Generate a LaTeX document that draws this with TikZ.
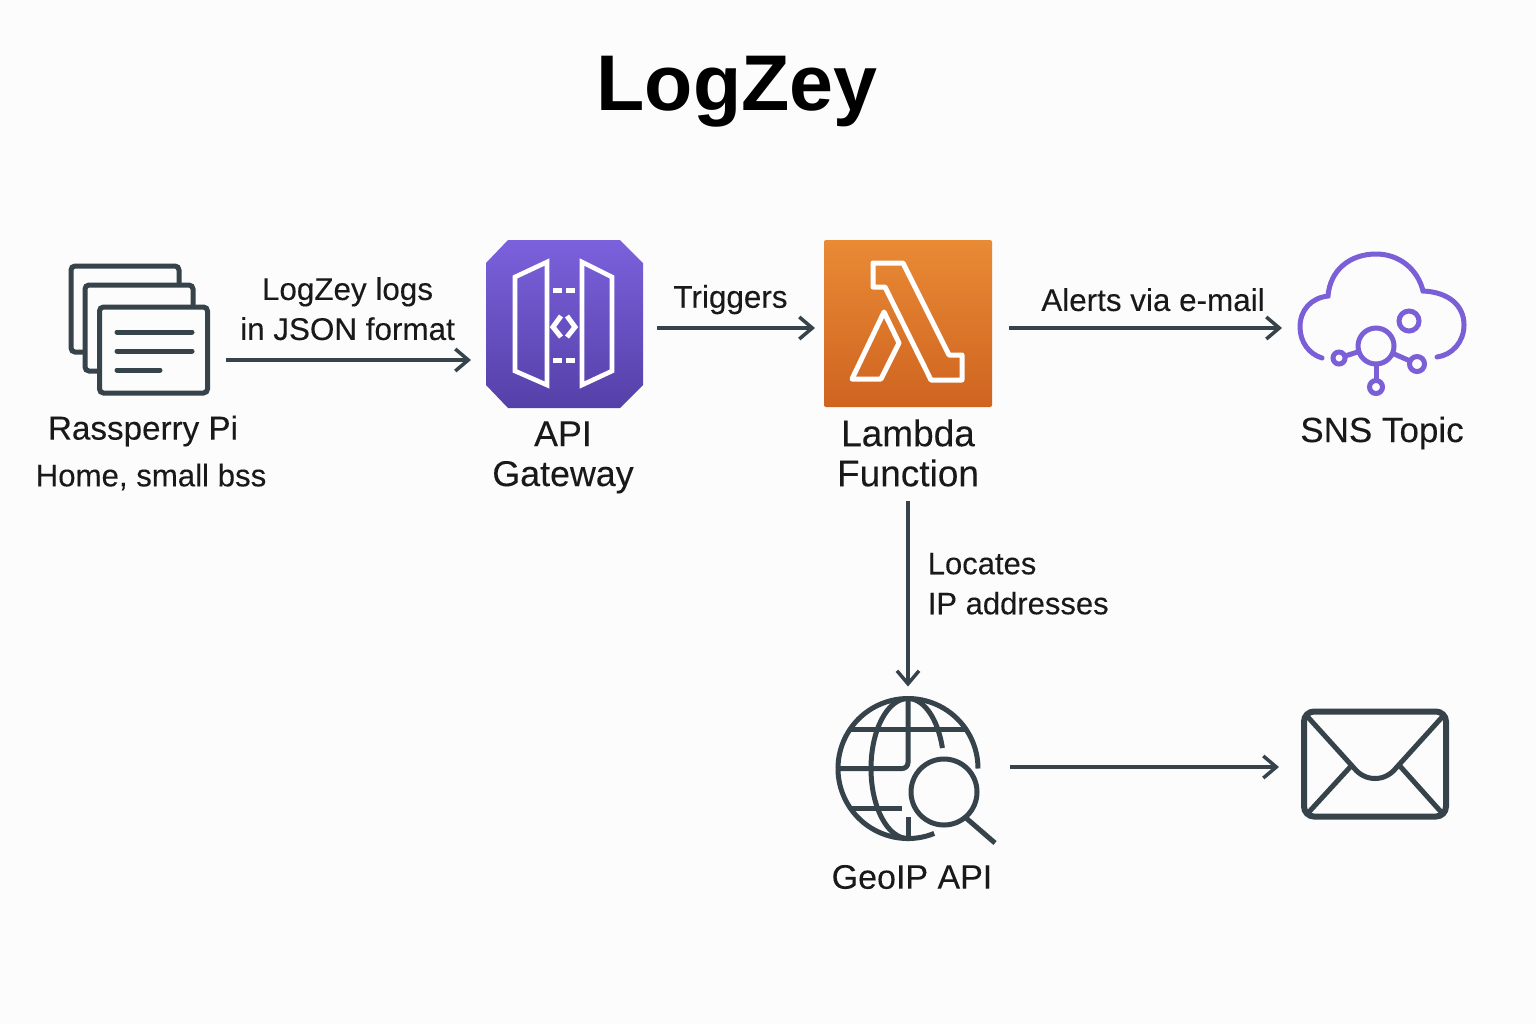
\documentclass[tikz,border=0pt]{standalone}
\usepackage{fontspec}
\setmainfont{Liberation Sans}
\newfontfamily\midfont[FakeBold=0.15]{Liberation Sans}
\usetikzlibrary{positioning,arrows.meta}
\definecolor{ink}{HTML}{37434B}
\definecolor{paper}{HTML}{FCFCFC}
\definecolor{snspurple}{HTML}{7A5FD6}
\definecolor{apitop}{HTML}{7B61DC}
\definecolor{apibottom}{HTML}{5540A8}
\definecolor{lambdatop}{HTML}{E98A35}
\definecolor{lambdabottom}{HTML}{CF6420}
\tikzset{icon box/.style={minimum width=#1,inner sep=0pt,outer sep=0pt},
	flow/.style={draw=ink,line width=1.75pt,-{Straight Barb[length=6.5pt,width=11pt,line width=1.75pt]}},
	icon text/.style={font=\midfont\fontsize{#1}{20}\selectfont,text=black!90,align=center,inner sep=0pt},
	flow text/.style={font=\midfont\fontsize{#1}{20}\selectfont,text=black!90,inner sep=0pt},
	doc line/.style={draw=ink,line width=2.5pt,line cap=round,rounded corners=2pt},
	door/.style={draw=white,line width=2.3pt,line join=miter},
	sns ring/.style={circle,draw=snspurple,line width=2.5pt,inner sep=0pt,outer sep=0pt,minimum size=#1},
	globe line/.style={draw=ink,line width=2.5pt},
}
\begin{document}
\begin{tikzpicture}[x=0.5pt,y=-0.5pt]
	\fill[paper] (0,0) rectangle (1536,1024);
	\node[font=\fontsize{39.5}{44}\bfseries\selectfont,text=black] (title) at (737,92) {LogZey};

	\node[icon box=69.5pt,minimum height=68pt] (pi) at (139.5,324) {};
	\node[icon box=78.5pt,minimum height=84pt] (api) [right = 138.5pt of pi] {};
	\node[icon box=84pt,minimum height=84pt] (lambda) [right = 90.5pt of api] {};
	\node[icon box=84.5pt,minimum height=74pt] (sns) [right = 153pt of lambda] {};
	\node[circle,icon box=70pt] (geoip) [below = 145.25pt of lambda] {};
	\node[draw=ink,line width=3pt,rounded corners=5pt,icon box=71pt,minimum height=52.5pt,yshift=2.25pt] (mail) [right = 163pt of geoip] {};

	\node[icon text=16.6] (pilabel) at (143,431) {Rassperry Pi};
	\node[flow text=15.6] (pinote) at (151,477) {Home, small bss};
	\node[icon text=17.9] (apilabel) [below = 6.5pt of api,xshift=-0.75pt] {API\\Gateway};
	\node[icon text=18.5] (lambdalabel) [below = 5.5pt of lambda] {Lambda\\Function};
	\node[icon text=17.5] (snslabel) at (1382,433) {SNS Topic};
	\node[icon text=17] (geoiplabel) at (912,877) {GeoIP API};

	% documents
	\foreach \dx/\dy in {0/0,14/19,28.5/41}
		\draw[doc line,fill=paper] (71+\dx,266+\dy) rectangle (179+\dx,352+\dy);
	\draw[doc line] (117,332) -- (192,332);
	\draw[doc line] (117,351) -- (192,351);
	\draw[doc line] (117,370) -- (160,370);

	% gateway
	\shade[top color=apitop,bottom color=apibottom]
		(508,240) -- (620,240) -- (643,263) -- (643,385) -- (620,408) -- (508,408) -- (486,385) -- (486,263) -- cycle;
	\draw[door] (515,277) -- (547,262) -- (547,385) -- (515,371) -- cycle;
	\draw[door] (582,262) -- (612,277) -- (612,371) -- (582,385) -- cycle;
	\foreach \doty in {290,360} {
		\draw[white,line width=2.5pt] (553,\doty) -- (562,\doty);
		\draw[white,line width=2.5pt] (566,\doty) -- (575,\doty);
	}
	\draw[white,line width=2.5pt] (561,316) -- (553,327) -- (561,337);
	\draw[white,line width=2.5pt] (567,316) -- (575,327) -- (567,337);

	% lambda
	\shade[top color=lambdatop,bottom color=lambdabottom,rounded corners=1pt]
		(824,240) rectangle (992,407);
	\draw[white,line width=2.5pt,line join=round] (873,263) -- (903,263) -- (949,355) -- (962,355) -- (962,380) -- (931,380) -- (885,287) -- (873,287) -- cycle;
	\draw[white,line width=2.5pt,line join=round] (884,312) -- (899,343) -- (881,379) -- (852,379) -- cycle;

	% sns
	\draw[draw=snspurple,line width=2.5pt,line cap=round] (1322,358) .. controls (1309,354) and (1300,342) .. (1300,327) .. controls (1300,310) and (1311,298) .. (1328,296) .. controls (1330,270) and (1350,254) .. (1376,254) .. controls (1400,254) and (1418,270) .. (1423,291) .. controls (1448,292) and (1464,305) .. (1464,325) .. controls (1464,342) and (1452,355) .. (1437,357);
	\node[sns ring=18pt] (hub) at (1376,346) {};
	\node[sns ring=10pt] (ringtop) at (1409,321) {};
	\node[sns ring=7.5pt] (ringright) at (1417,364) {};
	\node[sns ring=6pt] (ringleft) at (1339,358) {};
	\node[sns ring=6.5pt] (ringdown) at (1376,387) {};
	\draw[draw=snspurple,line width=2.5pt] (hub) -- (ringleft);
	\draw[draw=snspurple,line width=2.5pt] (hub) -- (ringright);
	\draw[draw=snspurple,line width=2.5pt] (hub) -- (ringdown);

	% globe
	\draw[globe line] (geoip.-68) arc[start angle=-68,end angle=-360,radius=35pt];
	\draw[globe line] (geoip.north) arc[start angle=90,end angle=270,x radius=18.5pt,y radius=35pt];
	\draw[globe line] (geoip.north) arc[start angle=90,end angle=17,x radius=18pt,y radius=35pt];
	\draw[globe line,rounded corners=3pt] (geoip.north) |- (geoip.west);
	\draw[globe line] (geoip.south) -- (908,817);
	\draw[globe line] (851,729) -- (965,729);
	\draw[globe line] (851,808) -- (902,808);
	\node[circle,draw=ink,fill=paper,line width=2.5pt,icon box=33pt] (lens) at (944,792) {};
	\draw[globe line] (lens.-50) -- (995,843);

	% envelope
	\draw[draw=ink,line width=2.5pt] (1306,715) -- (1354,768) .. controls (1365,782) and (1385,782) .. (1396,768) -- (1444,715);
	\draw[draw=ink,line width=2.5pt] (1308,813) -- (1352,765);
	\draw[draw=ink,line width=2.5pt] (1442,813) -- (1399,765);

	\draw[flow,shorten <=8.5pt,shorten >=7.5pt] ([yshift=-18pt]pi.east) -- ([yshift=-18pt]api.west)
		node[flow text=15.7,align=center,midway,above=9pt] {LogZey logs\\in JSON format};
	\draw[flow,shorten <=7pt,shorten >=4.5pt] ([yshift=-2pt]api.east) -- ([yshift=-2pt]lambda.west)
		node[flow text=15.7,midway,above=6pt,xshift=-1.5pt] {Triggers};
	\draw[flow,shorten <=8.5pt,shorten >=8pt] ([yshift=-2pt]lambda.east) -- ([yshift=-2pt]sns.west)
		node[flow text=15.7,midway,above=7.5pt,xshift=4pt] {Alerts via e-mail};
	\draw[flow,shorten <=7pt,shorten >=6pt] (lambdalabel.south) -- (geoip.north)
		node[flow text=15.5,align=left,midway,right=9pt,yshift=4.5pt] {Locates\\IP addresses};
	\draw[flow,shorten <=16pt,shorten >=12.5pt] ([yshift=0.75pt]geoip.east) -- ([yshift=0.75pt]geoip.east -| mail.west);
\end{tikzpicture}
\end{document}
